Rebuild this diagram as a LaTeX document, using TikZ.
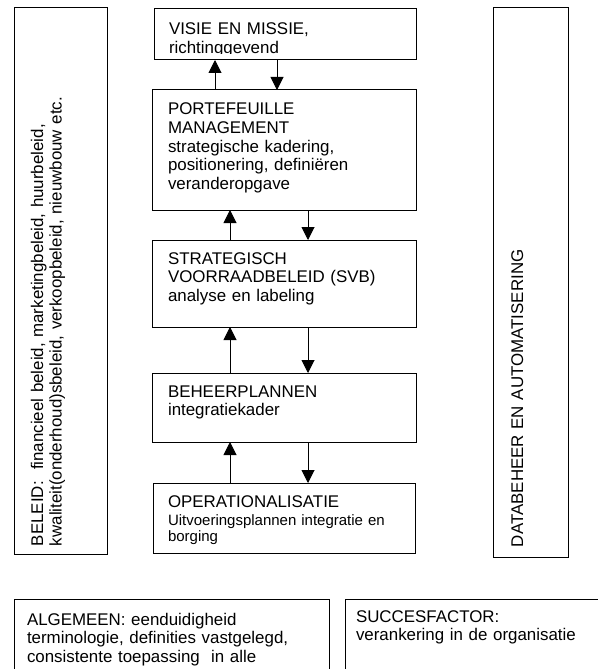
\documentclass[tikz,border=0pt]{standalone}
\usepackage{fontspec}
\setmainfont{Liberation Sans}
\usetikzlibrary{arrows.meta}
\begin{document}
\begin{tikzpicture}[x=1bp,y=-1bp,
  box/.style={draw, line width=1bp, inner sep=0pt, outer sep=0pt, anchor=north west},
  lbl/.style={inner sep=0pt, outer sep=0pt, anchor=base west, text width=#1, align=left,
              font=\fontsize{16.9bp}{18.6bp}\selectfont},
  lbl/.default=330bp,
  smalllbl/.style={inner sep=0pt, outer sep=0pt, anchor=base west, text width=300bp, align=left,
              font=\fontsize{15bp}{16.6bp}\selectfont},
  flow/.style={line width=1bp, -{Triangle[length=13bp,width=13bp]}}
]
% page area
\path[fill=white, use as bounding box] (0,0) rectangle (598,669);

% side columns
\node[box, minimum width=93bp, minimum height=546bp] (beleid) at (14,8) {};
\node[box, minimum width=75bp, minimum height=549bp] (data) at (493,8) {};

% central chain
\node[box, minimum width=262bp, minimum height=51bp]  (visie)  at (154,9) {};
\node[box, minimum width=264bp, minimum height=120bp] (port)   at (152,90) {};
\node[box, minimum width=264bp, minimum height=87bp]  (svb)    at (152,240) {};
\node[box, minimum width=264bp, minimum height=69bp]  (beheer) at (152,373) {};
\node[box, minimum width=262bp, minimum height=70bp]  (oper)   at (153,483) {};

% bottom boxes, running off the page
\begin{scope}
  \clip (0,0) rectangle (598,669);
  \node[box, minimum width=315bp, minimum height=100bp] (algemeen) at (14,599) {};
  \node[box, minimum width=300bp, minimum height=100bp] (succes)   at (345,599) {};
\end{scope}

% texts
\begin{scope}
  \clip (154,9) rectangle (416,53.9);
  \node[lbl] (t-visie) at (169,35) {VISIE EN MISSIE,\\richtinggevend};
\end{scope}
\node[lbl] (t-port) at (168,115) {PORTEFEUILLE\\MANAGEMENT\\strategische kadering,\\positionering, definiëren\\veranderopgave};
\node[lbl] (t-svb) at (168,264) {STRATEGISCH\\VOORRAADBELEID (SVB)\\analyse en labeling};
\node[lbl] (t-beheer) at (168,397) {BEHEERPLANNEN\\integratiekader};
\node[lbl] (t-oper) at (168,507) {OPERATIONALISATIE};
\node[smalllbl] (t-oper2) at (168,525) {Uitvoeringsplannen integratie en\\borging};
\node[lbl] (t-algemeen) at (27,625) {ALGEMEEN: eenduidigheid\\terminologie, definities vastgelegd,\\consistente toepassing\ \ in alle};
\node[lbl] (t-succes) at (356,622) {SUCCESFACTOR:\\verankering in de organisatie};
\node[lbl=560bp, rotate=90] (t-beleid) at (43,546)
  {BELEID:\ \ financieel beleid, marketingbeleid, huurbeleid,\\kwaliteit(onderhoud)sbeleid, verkoopbeleid, nieuwbouw etc.};
\node[lbl=560bp, rotate=90] (t-data) at (523,547) {DATABEHEER EN AUTOMATISERING};

% connector columns
\coordinate (u1) at (215,0);
\coordinate (d1) at (277,0);
\coordinate (u) at (230,0);
\coordinate (d) at (308,0);

\draw[flow] (port.north -| u1) -- (visie.south -| u1);
\draw[flow] (visie.south -| d1) -- (port.north -| d1);
\draw[flow] (svb.north -| u) -- (port.south -| u);
\draw[flow] (port.south -| d) -- (svb.north -| d);
\draw[flow] (beheer.north -| u) -- (svb.south -| u);
\draw[flow] (svb.south -| d) -- (beheer.north -| d);
\draw[flow] (oper.north -| u) -- (beheer.south -| u);
\draw[flow] (beheer.south -| d) -- (oper.north -| d);
\end{tikzpicture}
\end{document}
